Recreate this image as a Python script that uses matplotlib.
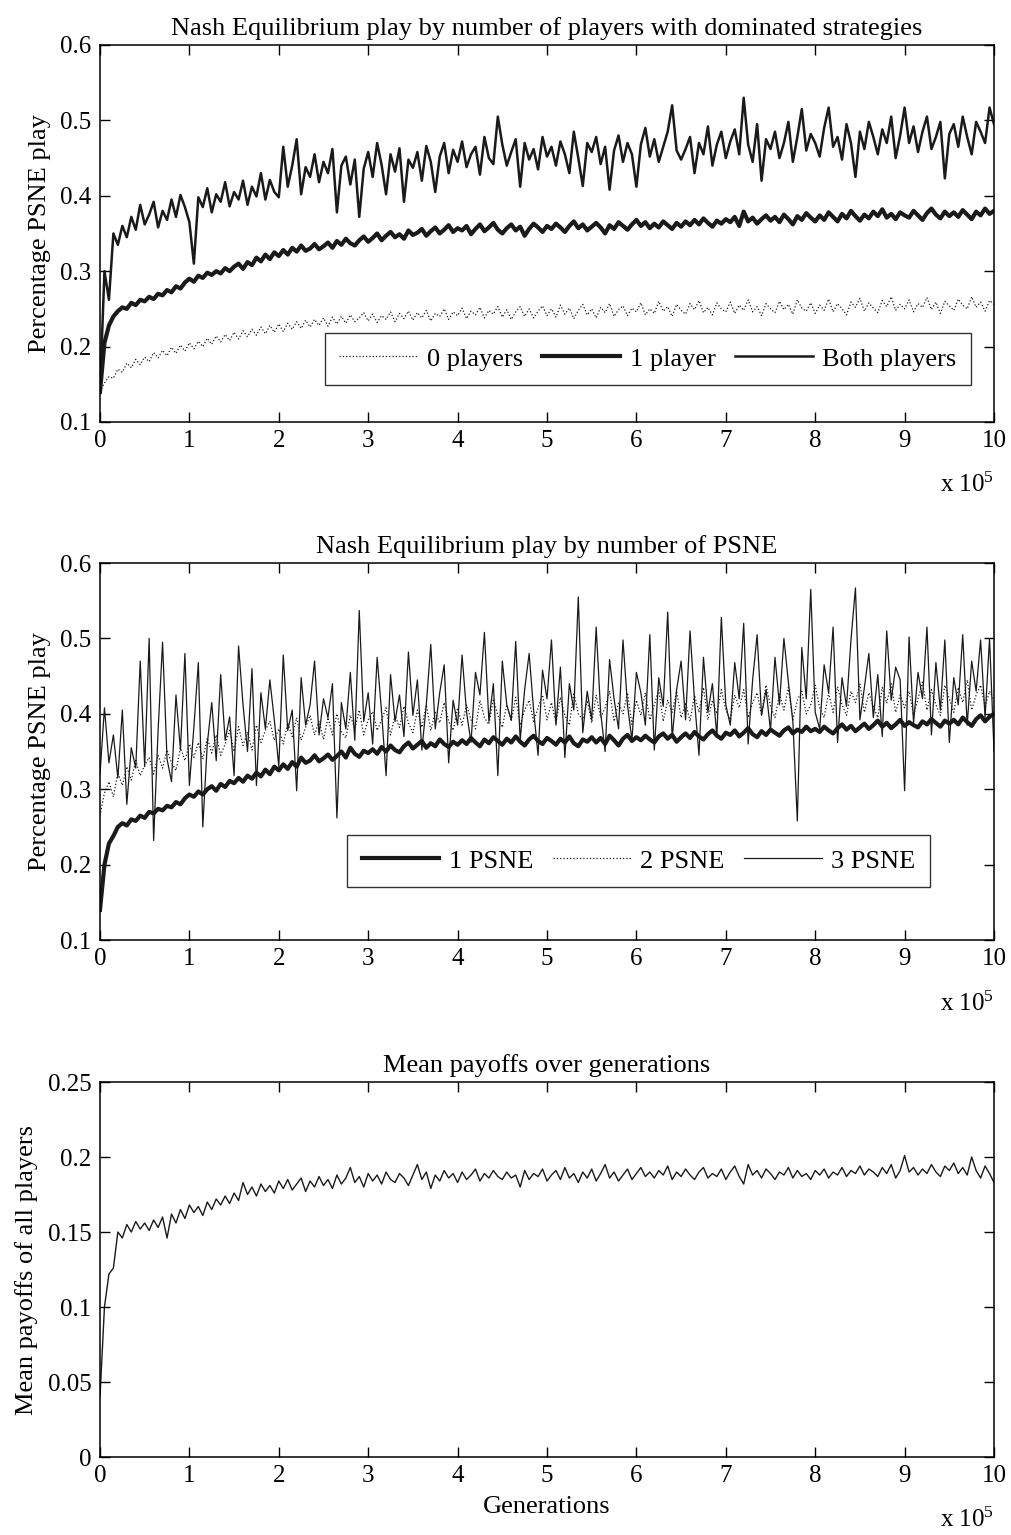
import numpy as np
import matplotlib
matplotlib.use('Agg')
import matplotlib.pyplot as plt

plt.rcParams['font.family'] = ['Liberation Serif', 'DejaVu Serif']
plt.rcParams['mathtext.fontset'] = 'custom'
plt.rcParams['mathtext.rm'] = 'Liberation Serif'
plt.rcParams['mathtext.it'] = 'Liberation Serif'

# generations sampled every 5000
gens = np.arange(0, 1000001, 5000)

# panel 1: PSNE play by number of players with dominated strategies
zero_players = [0.140,
    0.152,0.160,0.158,0.170,0.166,0.178,0.172,0.183,0.176,0.186,
    0.180,0.192,0.185,0.195,0.188,0.199,0.191,0.202,0.194,0.205,
    0.197,0.207,0.200,0.211,0.203,0.214,0.206,0.216,0.208,0.219,
    0.210,0.221,0.213,0.223,0.215,0.226,0.217,0.228,0.219,0.230,
    0.220,0.231,0.223,0.233,0.224,0.235,0.226,0.236,0.228,0.238,
    0.227,0.239,0.230,0.240,0.231,0.242,0.233,0.238,0.245,0.234,
    0.243,0.232,0.241,0.236,0.246,0.233,0.244,0.237,0.247,0.235,
    0.245,0.238,0.248,0.234,0.244,0.240,0.250,0.236,0.246,0.241,
    0.251,0.237,0.247,0.242,0.252,0.238,0.248,0.243,0.253,0.239,
    0.249,0.236,0.246,0.253,0.240,0.250,0.238,0.247,0.254,0.241,
    0.250,0.239,0.255,0.243,0.251,0.237,0.248,0.256,0.242,0.250,
    0.238,0.252,0.245,0.257,0.240,0.249,0.254,0.241,0.251,0.246,
    0.258,0.242,0.250,0.244,0.260,0.247,0.253,0.240,0.256,0.248,
    0.243,0.257,0.249,0.261,0.245,0.252,0.242,0.258,0.250,0.246,
    0.259,0.244,0.255,0.248,0.262,0.246,0.253,0.241,0.257,0.250,
    0.245,0.260,0.249,0.256,0.243,0.262,0.251,0.247,0.258,0.244,
    0.255,0.248,0.263,0.246,0.257,0.250,0.242,0.259,0.252,0.264,
    0.247,0.258,0.251,0.245,0.261,0.253,0.266,0.248,0.256,0.250,
    0.262,0.246,0.257,0.252,0.265,0.249,0.259,0.244,0.260,0.254,
    0.248,0.263,0.255,0.250,0.266,0.252,0.259,0.247,0.261,0.256]

one_player = [0.140,
    0.205,0.228,0.240,0.247,0.252,0.250,0.258,0.255,0.262,0.260,
    0.266,0.263,0.270,0.268,0.275,0.272,0.280,0.277,0.285,0.290,
    0.286,0.294,0.291,0.298,0.295,0.300,0.297,0.304,0.300,0.306,
    0.310,0.303,0.312,0.308,0.318,0.313,0.322,0.316,0.325,0.320,
    0.328,0.322,0.331,0.326,0.334,0.327,0.330,0.336,0.329,0.333,
    0.338,0.331,0.340,0.335,0.343,0.337,0.334,0.341,0.346,0.339,
    0.344,0.350,0.341,0.347,0.352,0.345,0.349,0.343,0.354,0.348,
    0.351,0.356,0.347,0.353,0.358,0.350,0.355,0.361,0.352,0.357,
    0.354,0.360,0.349,0.356,0.362,0.353,0.358,0.364,0.355,0.350,
    0.357,0.362,0.354,0.359,0.347,0.356,0.363,0.358,0.352,0.360,
    0.356,0.363,0.358,0.352,0.360,0.366,0.357,0.362,0.354,0.359,
    0.364,0.358,0.350,0.361,0.356,0.365,0.360,0.355,0.362,0.368,
    0.360,0.365,0.357,0.363,0.358,0.366,0.361,0.356,0.364,0.359,
    0.366,0.361,0.368,0.362,0.370,0.364,0.359,0.367,0.363,0.369,
    0.365,0.372,0.360,0.379,0.366,0.371,0.363,0.369,0.374,0.367,
    0.372,0.365,0.375,0.369,0.362,0.373,0.368,0.377,0.371,0.366,
    0.374,0.368,0.378,0.372,0.366,0.376,0.370,0.380,0.373,0.367,
    0.375,0.370,0.379,0.373,0.382,0.371,0.376,0.369,0.378,0.374,
    0.371,0.380,0.374,0.368,0.377,0.383,0.375,0.370,0.379,0.373,
    0.378,0.372,0.381,0.375,0.369,0.379,0.374,0.383,0.376,0.380]

both_players = [0.140,
    0.300,0.262,0.350,0.335,0.360,0.345,0.372,0.355,0.388,0.362,
    0.375,0.392,0.358,0.380,0.368,0.395,0.372,0.401,0.385,0.365,
    0.310,0.398,0.385,0.410,0.378,0.402,0.392,0.418,0.386,0.405,
    0.395,0.420,0.388,0.412,0.399,0.430,0.395,0.421,0.405,0.398,
    0.465,0.412,0.440,0.475,0.402,0.438,0.425,0.455,0.418,0.445,
    0.430,0.462,0.378,0.440,0.452,0.415,0.448,0.372,0.436,0.458,
    0.425,0.470,0.441,0.402,0.455,0.432,0.463,0.392,0.448,0.437,
    0.458,0.420,0.466,0.445,0.405,0.452,0.470,0.430,0.461,0.445,
    0.472,0.438,0.455,0.465,0.428,0.478,0.450,0.442,0.505,0.468,
    0.440,0.458,0.475,0.412,0.470,0.448,0.462,0.435,0.478,0.452,
    0.465,0.440,0.472,0.455,0.430,0.485,0.450,0.413,0.470,0.458,
    0.478,0.442,0.465,0.408,0.460,0.480,0.445,0.470,0.455,0.412,
    0.468,0.490,0.452,0.475,0.445,0.465,0.485,0.520,0.460,0.448,
    0.462,0.478,0.430,0.470,0.455,0.492,0.440,0.468,0.485,0.450,
    0.472,0.488,0.455,0.530,0.468,0.445,0.495,0.420,0.475,0.462,
    0.485,0.450,0.470,0.498,0.445,0.478,0.515,0.460,0.482,0.470,
    0.452,0.490,0.517,0.465,0.478,0.448,0.495,0.470,0.425,0.485,
    0.462,0.498,0.478,0.455,0.488,0.470,0.505,0.450,0.480,0.517,
    0.470,0.492,0.458,0.485,0.505,0.462,0.478,0.498,0.423,0.482,
    0.495,0.465,0.505,0.478,0.455,0.498,0.485,0.470,0.517,0.495]

# panel 2: PSNE play by number of PSNE
psne_1 = [0.140,
    0.200,0.228,0.238,0.250,0.255,0.252,0.260,0.258,0.265,0.262,
    0.270,0.268,0.274,0.272,0.278,0.276,0.283,0.280,0.288,0.293,
    0.290,0.297,0.293,0.300,0.304,0.298,0.307,0.303,0.311,0.308,
    0.315,0.310,0.318,0.314,0.322,0.317,0.326,0.320,0.330,0.325,
    0.333,0.327,0.336,0.330,0.342,0.335,0.338,0.345,0.337,0.341,
    0.346,0.339,0.344,0.350,0.342,0.355,0.347,0.343,0.351,0.348,
    0.353,0.347,0.356,0.350,0.358,0.352,0.349,0.357,0.362,0.354,
    0.359,0.364,0.355,0.361,0.357,0.366,0.360,0.356,0.363,0.359,
    0.365,0.360,0.368,0.362,0.357,0.366,0.361,0.369,0.364,0.359,
    0.367,0.362,0.370,0.363,0.358,0.366,0.371,0.364,0.360,0.368,
    0.364,0.359,0.367,0.362,0.370,0.361,0.357,0.366,0.363,0.369,
    0.362,0.368,0.360,0.371,0.365,0.358,0.367,0.372,0.364,0.369,
    0.365,0.371,0.366,0.362,0.370,0.374,0.367,0.372,0.363,0.369,
    0.374,0.368,0.376,0.370,0.366,0.373,0.378,0.371,0.367,0.375,
    0.372,0.378,0.370,0.375,0.381,0.373,0.369,0.377,0.372,0.379,
    0.375,0.371,0.378,0.382,0.374,0.379,0.376,0.383,0.377,0.380,
    0.376,0.383,0.378,0.374,0.381,0.386,0.379,0.384,0.377,0.382,
    0.387,0.380,0.385,0.391,0.383,0.388,0.381,0.386,0.392,0.384,
    0.389,0.385,0.382,0.390,0.386,0.393,0.388,0.383,0.391,0.387,
    0.392,0.386,0.395,0.389,0.384,0.393,0.398,0.390,0.396,0.400]

psne_2 = [0.265,
    0.295,0.310,0.290,0.322,0.305,0.330,0.312,0.338,0.318,0.332,
    0.342,0.320,0.345,0.328,0.352,0.335,0.325,0.355,0.338,0.360,
    0.342,0.362,0.340,0.368,0.348,0.372,0.345,0.360,0.378,0.350,
    0.383,0.358,0.376,0.352,0.385,0.362,0.378,0.390,0.365,0.380,
    0.360,0.388,0.370,0.395,0.365,0.382,0.398,0.372,0.390,0.366,
    0.395,0.372,0.400,0.376,0.368,0.398,0.380,0.405,0.372,0.392,
    0.403,0.378,0.392,0.408,0.372,0.398,0.382,0.410,0.388,0.375,
    0.405,0.382,0.412,0.378,0.402,0.388,0.415,0.390,0.378,0.408,
    0.385,0.412,0.392,0.380,0.418,0.395,0.386,0.420,0.398,0.382,
    0.412,0.390,0.422,0.385,0.405,0.418,0.390,0.408,0.425,0.392,
    0.415,0.388,0.422,0.398,0.385,0.428,0.400,0.392,0.418,0.388,
    0.425,0.395,0.408,0.430,0.390,0.415,0.400,0.428,0.386,0.418,
    0.398,0.428,0.392,0.412,0.432,0.390,0.418,0.402,0.430,0.395,
    0.415,0.390,0.425,0.402,0.435,0.392,0.418,0.400,0.432,0.405,
    0.392,0.425,0.408,0.432,0.395,0.415,0.428,0.398,0.438,0.410,
    0.395,0.426,0.405,0.435,0.392,0.418,0.430,0.400,0.412,0.438,
    0.408,0.395,0.428,0.402,0.436,0.412,0.398,0.430,0.415,0.440,
    0.402,0.428,0.410,0.395,0.435,0.414,0.440,0.402,0.425,0.408,
    0.430,0.398,0.420,0.442,0.405,0.432,0.412,0.398,0.438,0.420,
    0.402,0.435,0.415,0.445,0.405,0.425,0.438,0.410,0.430,0.418]

psne_3 = [0.320,
    0.408,0.335,0.372,0.315,0.405,0.280,0.355,0.328,0.470,0.330,
    0.500,0.232,0.378,0.495,0.340,0.310,0.425,0.352,0.480,0.305,
    0.382,0.468,0.250,0.360,0.415,0.338,0.452,0.365,0.396,0.318,
    0.490,0.412,0.350,0.460,0.305,0.428,0.380,0.445,0.392,0.330,
    0.478,0.378,0.405,0.298,0.448,0.385,0.412,0.470,0.372,0.420,
    0.395,0.440,0.262,0.415,0.380,0.455,0.365,0.537,0.390,0.428,
    0.360,0.475,0.402,0.318,0.452,0.390,0.425,0.370,0.482,0.398,
    0.445,0.352,0.412,0.492,0.380,0.428,0.465,0.335,0.418,0.385,
    0.478,0.402,0.362,0.455,0.425,0.508,0.390,0.440,0.318,0.470,
    0.412,0.392,0.496,0.365,0.432,0.480,0.405,0.345,0.458,0.420,
    0.498,0.385,0.462,0.342,0.440,0.405,0.555,0.375,0.430,0.392,
    0.515,0.402,0.350,0.472,0.420,0.380,0.498,0.412,0.365,0.455,
    0.428,0.385,0.505,0.352,0.448,0.410,0.535,0.368,0.432,0.470,
    0.392,0.510,0.418,0.345,0.475,0.402,0.440,0.370,0.528,0.412,
    0.385,0.468,0.420,0.520,0.360,0.445,0.505,0.398,0.432,0.378,
    0.475,0.412,0.500,0.442,0.390,0.258,0.488,0.420,0.565,0.402,
    0.380,0.465,0.428,0.515,0.362,0.448,0.410,0.498,0.567,0.392,
    0.435,0.480,0.395,0.452,0.370,0.510,0.418,0.462,0.445,0.298,
    0.502,0.388,0.455,0.420,0.515,0.372,0.468,0.405,0.498,0.362,
    0.448,0.412,0.505,0.385,0.470,0.430,0.498,0.395,0.500,0.350]

# panel 3: mean payoffs of all players
mean_payoff = [0.040,
    0.100,0.122,0.126,0.150,0.146,0.155,0.150,0.157,0.152,0.156,
    0.151,0.158,0.153,0.160,0.146,0.162,0.156,0.165,0.159,0.168,
    0.163,0.167,0.161,0.170,0.165,0.172,0.168,0.174,0.169,0.176,
    0.171,0.183,0.175,0.180,0.174,0.182,0.177,0.181,0.176,0.184,
    0.179,0.185,0.178,0.182,0.186,0.177,0.184,0.180,0.187,0.181,
    0.185,0.179,0.188,0.182,0.186,0.193,0.183,0.187,0.180,0.189,
    0.184,0.188,0.182,0.190,0.185,0.183,0.189,0.186,0.181,0.188,
    0.195,0.185,0.190,0.179,0.188,0.184,0.191,0.186,0.189,0.183,
    0.190,0.185,0.188,0.192,0.184,0.189,0.186,0.191,0.187,0.185,
    0.190,0.186,0.188,0.180,0.191,0.185,0.189,0.187,0.192,0.184,
    0.188,0.191,0.185,0.193,0.186,0.189,0.183,0.190,0.186,0.192,
    0.184,0.189,0.195,0.186,0.190,0.184,0.188,0.192,0.185,0.189,
    0.193,0.187,0.190,0.186,0.191,0.188,0.194,0.185,0.190,0.187,
    0.192,0.188,0.185,0.190,0.193,0.186,0.189,0.187,0.192,0.185,
    0.190,0.194,0.187,0.182,0.195,0.188,0.191,0.186,0.192,0.189,
    0.185,0.190,0.188,0.193,0.186,0.191,0.187,0.189,0.185,0.191,
    0.188,0.192,0.186,0.190,0.188,0.193,0.187,0.191,0.189,0.194,
    0.188,0.192,0.190,0.187,0.193,0.189,0.195,0.186,0.191,0.201,
    0.190,0.193,0.188,0.192,0.189,0.195,0.190,0.187,0.194,0.191,
    0.196,0.189,0.193,0.188,0.200,0.191,0.186,0.194,0.189,0.183]

xticks = np.arange(0, 11) * 1e5
xticklabels = [str(i) for i in range(11)]

TICK_FS = 18
LAB_FS = 19
INK = '#1a1a1a'


def style_axes(ax, ylim, yticks, yfmt):
    ax.set_xlim(0, 1e6)
    ax.set_ylim(*ylim)
    ax.set_xticks(xticks)
    ax.set_xticklabels(xticklabels)
    ax.set_yticks(yticks)
    ax.set_yticklabels([yfmt(v) for v in yticks])
    ax.tick_params(direction='in', length=7, width=1, top=True, right=True,
                   labelsize=TICK_FS, pad=6)
    for s in ax.spines.values():
        s.set_linewidth(1.1)
    ax.text(1.0, -0.168, r'x 10$^5$', transform=ax.transAxes,
            ha='right', va='center', fontsize=TICK_FS)


def add_legend(ax, anchor):
    leg = ax.legend(loc='lower center', bbox_to_anchor=anchor, ncol=3,
                    fontsize=LAB_FS, frameon=True, fancybox=False,
                    handlelength=2.95, columnspacing=0.75, handletextpad=0.35,
                    borderpad=0.55, borderaxespad=0)
    leg.get_frame().set_edgecolor('black')
    leg.get_frame().set_linewidth(1.0)
    return leg


fig = plt.figure(figsize=(10.11, 15.35), dpi=100)
ax1 = fig.add_axes([0.0989, 0.7251, 0.8843, 0.2456])
ax2 = fig.add_axes([0.0989, 0.3876, 0.8843, 0.2456])
ax3 = fig.add_axes([0.0989, 0.0508, 0.8843, 0.2443])

# --- panel 1
ax1.plot(gens, zero_players, ':', color=INK, lw=0.9, label='0 players')
ax1.plot(gens, one_player, '-', color=INK, lw=3.0, label='1 player')
ax1.plot(gens, both_players, '-', color=INK, lw=1.8, label='Both players')
style_axes(ax1, (0.1, 0.6), [0.1, 0.2, 0.3, 0.4, 0.5, 0.6], lambda v: f'{v:.1f}')
ax1.set_title('Nash Equilibrium play by number of players with dominated strategies',
              fontsize=LAB_FS, pad=7)
ax1.set_ylabel('Percentage PSNE play', fontsize=LAB_FS, labelpad=7)
add_legend(ax1, (0.613, 0.098))

# --- panel 2
ax2.plot(gens, psne_1, '-', color=INK, lw=3.0, label='1 PSNE')
ax2.plot(gens, psne_2, ':', color=INK, lw=0.9, label='2 PSNE')
ax2.plot(gens, psne_3, '-', color=INK, lw=0.9, label='3 PSNE')
style_axes(ax2, (0.1, 0.6), [0.1, 0.2, 0.3, 0.4, 0.5, 0.6], lambda v: f'{v:.1f}')
ax2.set_title('Nash Equilibrium play by number of PSNE', fontsize=LAB_FS, pad=7)
ax2.set_ylabel('Percentage PSNE play', fontsize=LAB_FS, labelpad=7)
add_legend(ax2, (0.6023, 0.1406))

# --- panel 3
ax3.plot(gens, mean_payoff, '-', color=INK, lw=1.0)
style_axes(ax3, (0, 0.25), [0, 0.05, 0.1, 0.15, 0.2, 0.25],
           lambda v: '0' if v == 0 else f'{v:g}')
ax3.set_title('Mean payoffs over generations', fontsize=LAB_FS, pad=7)
ax3.set_ylabel('Mean payoffs of all players', fontsize=LAB_FS, labelpad=7)
ax3.set_xlabel('Generations', fontsize=LAB_FS, labelpad=6)

fig.savefig('out.png', dpi=100)
